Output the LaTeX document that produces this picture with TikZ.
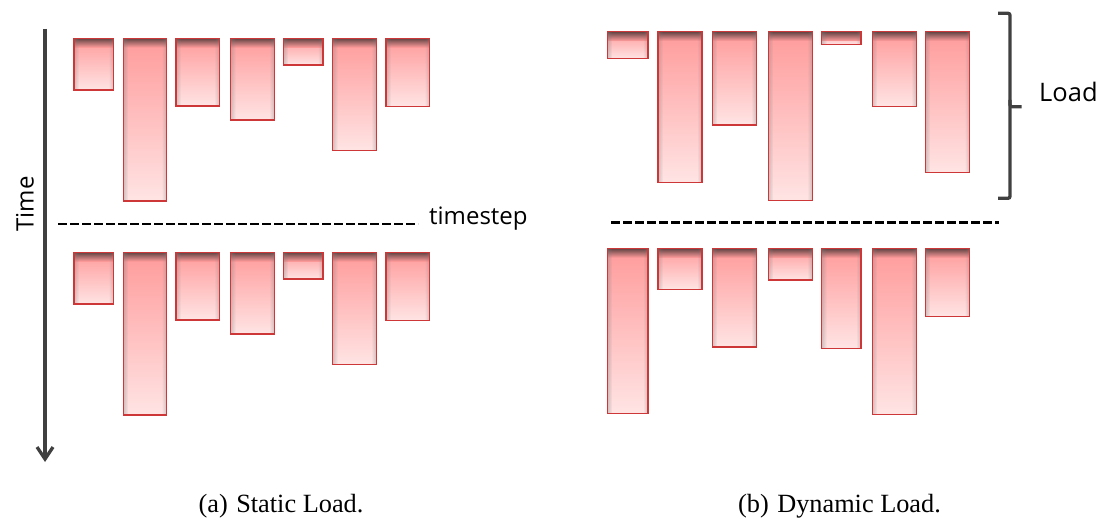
\documentclass[tikz,border=0pt]{standalone}
\usepackage{fontspec}
\setmainfont{Liberation Serif}
\newfontfamily\labelfont{Open Sans}
\usetikzlibrary{arrows.meta,fadings}

\definecolor{bartopdark}{RGB}{100,68,68}
\definecolor{barsalmon}{RGB}{255,155,155}
\definecolor{barpale}{RGB}{255,228,228}
\definecolor{barborder}{RGB}{205,55,55}
\definecolor{axisgray}{RGB}{64,64,64}

\tikzset{
  barframe/.style={draw=barborder, line width=1.4pt},
  sepline/.style={black, line width=2.8pt, dash pattern=on 8.5pt off 3.5pt},
  axisline/.style={axisgray, line width=3.3pt},
  lbl/.style={font=\labelfont\fontsize{24}{28}\selectfont, inner sep=0pt},
  captiontext/.style={font=\fontsize{26.3}{30}\selectfont, inner sep=0pt},
}

% one load bar: left x, right x, top y, bottom y
\newcommand\loadbar[4]{%
  \shade[top color=barsalmon, bottom color=barpale] (#1,#3) rectangle (#2,#4);
  \shade[top color=bartopdark, bottom color=barsalmon] (#1,#3) rectangle (#2,#3+9);
  \fill[gray, path fading=east, fill opacity=.35] (#1,#3) rectangle (#1+5,#4);
  \fill[gray, path fading=west, fill opacity=.35] (#2-5,#3) rectangle (#2,#4);
  \draw[barframe] (#1,#3) rectangle (#2,#4);
}

\begin{document}
\begin{tikzpicture}[x=1pt, y=-1pt]
\useasboundingbox (0,0) rectangle (1104,521);

% ---- (a) static load ----
\coordinate (tstart) at (45,29);
\coordinate (tend) at (45,462);
\draw[axisline, -{Straight Barb[length=12pt, width=16pt, line width=3.3pt]}] (tstart) -- (tend);
\node[lbl, rotate=90, anchor=base] (time) at (33.5,204) {Time};

\foreach \xa/\xb/\hb in {74/113.7/90, 123.3/166.7/201, 176/219.3/106, 230.7/274.3/120,
                         283.3/323/65, 332.7/376.3/150.5, 386/429.7/106.5}{
  \loadbar{\xa}{\xb}{38.3}{\hb}
  \loadbar{\xa}{\xb}{252.3}{\hb+214}
}

\coordinate (sepA1) at (58,224);
\coordinate (sepA2) at (418,224);
\draw[sepline] (sepA1) -- (sepA2);
\node[lbl, anchor=base west] (tstep) at (429,225) {timestep};

\node[captiontext, anchor=base] (capA) at (281,512.5) {(a)\hspace{8.5pt}Static Load.};

% ---- (b) dynamic load ----
\foreach \xa/\xb/\hb in {607.3/648/58.7, 658/702/182.3, 712.3/756.3/125, 768.3/812.3/200.7,
                         821.7/861/44.7, 872.3/916.3/106.3, 925.3/969.7/172.7}{
  \loadbar{\xa}{\xb}{31.7}{\hb}
}
\foreach \xa/\xb/\hb in {607.3/648/413.3, 658/702/289.3, 712.3/756.3/347, 768.3/812.3/280,
                         821.7/861/348.3, 872.3/916.3/414.3, 925.3/969.7/316.3}{
  \loadbar{\xa}{\xb}{248.5}{\hb}
}

\coordinate (sepB1) at (611,222.3);
\coordinate (sepB2) at (999,222.3);
\draw[sepline] (sepB1) -- (sepB2);

% load bracket
\draw[axisline, rounded corners=2pt] (998,13.3) -- (1010,13.3) -- (1010,198.3) -- (998,198.3);
\draw[axisline, rounded corners=2pt] (1010,100) -- (1010,106.7) -- (1021.5,106.7);
\node[lbl, anchor=base west, font=\labelfont\fontsize{25.5}{28}\selectfont] (load) at (1039,101.7) {Load};

\node[captiontext, anchor=base] (capB) at (839.5,512.5) {(b)\hspace{8.5pt}Dynamic Load.};
\end{tikzpicture}
\end{document}
